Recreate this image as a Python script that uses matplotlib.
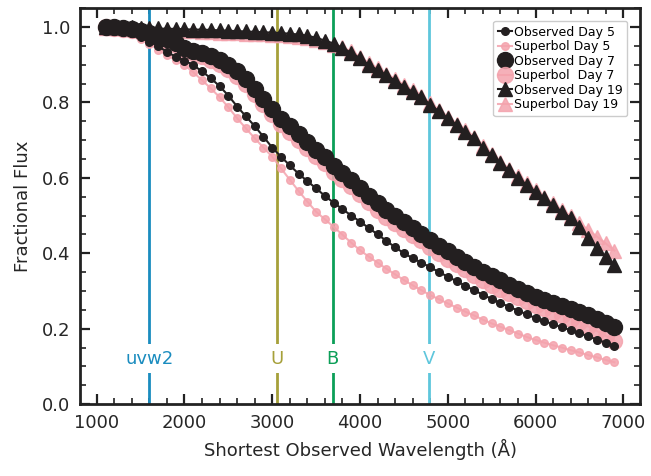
import numpy as np
import matplotlib
matplotlib.use("Agg")
from matplotlib import pyplot as plt
from matplotlib.ticker import MultipleLocator

# wavelength grid (Angstrom) shared by all curves
wave = [1100, 1200, 1300, 1400, 1500, 1600, 1700, 1800, 1900, 2000,
        2100, 2200, 2300, 2400, 2500, 2600, 2700, 2800, 2900, 3000,
        3100, 3200, 3300, 3400, 3500, 3600, 3700, 3800, 3900, 4000,
        4100, 4200, 4300, 4400, 4500, 4600, 4700, 4800, 4900, 5000,
        5100, 5200, 5300, 5400, 5500, 5600, 5700, 5800, 5900, 6000,
        6100, 6200, 6300, 6400, 6500, 6600, 6700, 6800, 6900]

obs_day5 = [1.000, 0.998, 0.993, 0.985, 0.974, 0.961, 0.949, 0.934, 0.921, 0.911,
            0.899, 0.882, 0.864, 0.843, 0.818, 0.789, 0.763, 0.737, 0.709, 0.680,
            0.656, 0.633, 0.611, 0.591, 0.572, 0.552, 0.534, 0.517, 0.500, 0.484,
            0.467, 0.450, 0.433, 0.416, 0.400, 0.387, 0.375, 0.363, 0.350, 0.338,
            0.326, 0.314, 0.302, 0.290, 0.279, 0.268, 0.258, 0.248, 0.238, 0.228,
            0.220, 0.212, 0.204, 0.196, 0.188, 0.180, 0.171, 0.163, 0.154]

sb_day5 = [1.000, 0.996, 0.990, 0.980, 0.968, 0.955, 0.940, 0.925, 0.912, 0.899,
           0.880, 0.859, 0.837, 0.814, 0.787, 0.758, 0.731, 0.705, 0.680, 0.656,
           0.625, 0.595, 0.565, 0.537, 0.510, 0.490, 0.470, 0.449, 0.428, 0.408,
           0.391, 0.375, 0.359, 0.344, 0.329, 0.315, 0.302, 0.289, 0.278, 0.267,
           0.256, 0.245, 0.235, 0.224, 0.214, 0.205, 0.196, 0.187, 0.178, 0.170,
           0.163, 0.156, 0.150, 0.143, 0.137, 0.130, 0.124, 0.117, 0.111]

obs_day7 = [1.000, 1.000, 0.998, 0.995, 0.990, 0.984, 0.977, 0.968, 0.957, 0.945,
            0.937, 0.930, 0.922, 0.912, 0.898, 0.882, 0.861, 0.836, 0.810, 0.783,
            0.757, 0.737, 0.717, 0.695, 0.675, 0.654, 0.632, 0.614, 0.594, 0.573,
            0.552, 0.532, 0.514, 0.498, 0.482, 0.467, 0.452, 0.436, 0.420, 0.405,
            0.391, 0.377, 0.364, 0.351, 0.339, 0.328, 0.317, 0.306, 0.295, 0.285,
            0.277, 0.269, 0.261, 0.253, 0.245, 0.235, 0.225, 0.215, 0.205]

sb_day7 = [0.999, 0.998, 0.995, 0.992, 0.987, 0.980, 0.972, 0.963, 0.951, 0.939,
           0.930, 0.922, 0.913, 0.902, 0.888, 0.871, 0.849, 0.823, 0.796, 0.768,
           0.742, 0.721, 0.701, 0.679, 0.659, 0.638, 0.616, 0.597, 0.577, 0.556,
           0.535, 0.515, 0.497, 0.481, 0.464, 0.449, 0.434, 0.417, 0.401, 0.386,
           0.371, 0.357, 0.343, 0.329, 0.316, 0.305, 0.294, 0.283, 0.273, 0.263,
           0.254, 0.245, 0.236, 0.227, 0.218, 0.206, 0.194, 0.181, 0.168]

obs_day19 = [1.000, 1.000, 0.999, 0.999, 0.998, 0.997, 0.996, 0.995, 0.995, 0.994,
             0.993, 0.993, 0.992, 0.991, 0.990, 0.989, 0.988, 0.987, 0.986, 0.985,
             0.984, 0.982, 0.980, 0.977, 0.971, 0.964, 0.956, 0.944, 0.932, 0.917,
             0.899, 0.886, 0.872, 0.858, 0.842, 0.828, 0.813, 0.794, 0.776, 0.758,
             0.740, 0.722, 0.705, 0.680, 0.660, 0.638, 0.620, 0.600, 0.581, 0.563,
             0.546, 0.528, 0.510, 0.494, 0.470, 0.440, 0.413, 0.391, 0.369]

sb_day19 = [0.998, 0.997, 0.996, 0.995, 0.994, 0.993, 0.992, 0.991, 0.990, 0.989,
            0.988, 0.987, 0.986, 0.985, 0.984, 0.983, 0.982, 0.981, 0.980, 0.979,
            0.978, 0.976, 0.974, 0.971, 0.966, 0.960, 0.953, 0.946, 0.935, 0.921,
            0.904, 0.890, 0.876, 0.862, 0.846, 0.832, 0.817, 0.798, 0.780, 0.762,
            0.744, 0.726, 0.709, 0.684, 0.664, 0.642, 0.624, 0.604, 0.585, 0.567,
            0.550, 0.532, 0.514, 0.498, 0.480, 0.462, 0.444, 0.426, 0.407]

# filter edges
filt_names = ["uvw2", "U", "B", "V"]
filt_wave = [1600, 3055, 3690, 4785]
filt_colors = ["#1a8cbf", "#a6a03a", "#0c9f58", "#5ec6dc"]

obs_col = "#231f20"
sb_col = "#f4a3ad"

fig = plt.figure(figsize=(6.51, 4.76), dpi=100)
ax = fig.add_axes([0.123, 0.151, 0.860, 0.832])

ax.plot(wave, obs_day5, "o-", color=obs_col, ms=5.5, lw=1.5, label="Observed Day 5", zorder=5)
ax.plot(wave, sb_day5, "o-", color=sb_col, ms=5.5, lw=1.5, alpha=0.85, label="Superbol Day 5", zorder=4)
ax.plot(wave, obs_day7, "o-", color=obs_col, ms=11.5, lw=1.5, label="Observed Day 7", zorder=5)
ax.plot(wave, sb_day7, "o-", color=sb_col, ms=11.5, lw=1.5, alpha=0.85, label="Superbol  Day 7", zorder=4)
ax.plot(wave, obs_day19, "^-", color=obs_col, ms=10, lw=1.5, label="Observed Day 19", zorder=5)
ax.plot(wave, sb_day19, "^-", color=sb_col, ms=10, lw=1.5, alpha=0.85, label="Superbol Day 19", zorder=4)

for name, w, c in zip(filt_names, filt_wave, filt_colors):
    ax.axvline(w, color=c, lw=2, zorder=2)
    ax.text(w, 0.12, name, color=c, fontsize=13, ha="center", va="center", zorder=3,
            bbox=dict(facecolor="white", edgecolor="none", pad=4))

ax.set_xlim(810, 7190)
ax.set_ylim(0, 1.05)
ax.xaxis.set_major_locator(MultipleLocator(1000))
ax.xaxis.set_minor_locator(MultipleLocator(200))
ax.yaxis.set_major_locator(MultipleLocator(0.2))
ax.yaxis.set_minor_locator(MultipleLocator(0.05))
ax.yaxis.set_major_formatter(plt.FormatStrFormatter("%.1f"))

txt = "#262626"
ax.tick_params(which="both", direction="in", top=True, right=True, colors="#222222",
               labelcolor=txt, labelsize=13)
ax.tick_params(which="major", length=7, width=1.6, pad=7)
ax.tick_params(which="minor", length=4, width=1.2)
for s in ax.spines.values():
    s.set_linewidth(2)
    s.set_color("#222222")

ax.set_xlabel("Shortest Observed Wavelength (Å)", fontsize=13, color=txt, labelpad=5)
ax.set_ylabel("Fractional Flux", fontsize=13, color=txt, labelpad=7)

leg = ax.legend(loc="upper right", fontsize=9, handlelength=1.1, handletextpad=0.15,
                labelspacing=0.12, borderpad=0.4, borderaxespad=1.0, framealpha=1)
leg.get_frame().set_edgecolor("#cccccc")

fig.savefig("out.png", dpi=100)
